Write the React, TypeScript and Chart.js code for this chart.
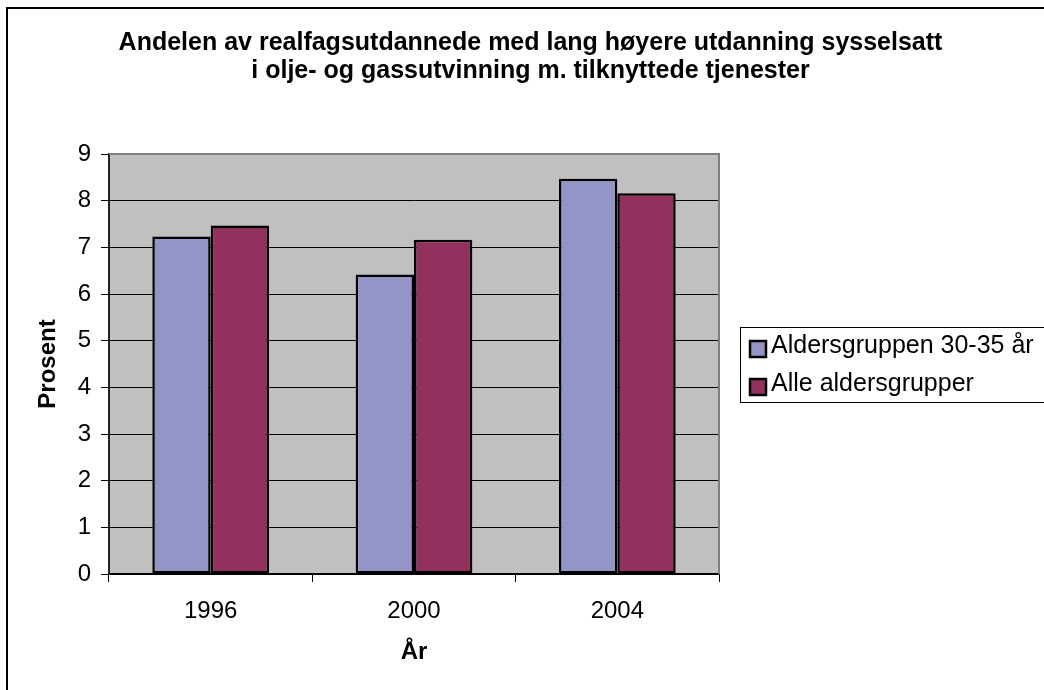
import { useEffect, useRef } from "react";
import { Chart, registerables } from "chart.js";

Chart.register(...registerables);

// Data
const years = ["1996", "2000", "2004"];
const age3035 = [7.23, 6.42, 8.47];
const allAges = [7.47, 7.16, 8.16];
const seriesNames = ["Aldersgruppen 30-35 år", "Alle aldersgrupper"];
const seriesColors = ["#9494C6", "#92305E"];
const titleLines = [
  "Andelen av realfagsutdannede med lang høyere utdanning sysselsatt",
  "i olje- og gassutvinning m. tilknyttede tjenester",
];
const yAxisTitle = "Prosent";
const xAxisTitle = "År";
const yMin = 0;
const yMax = 9;
const yStep = 1;

const FONT = "'Liberation Sans', Arial, Helvetica, sans-serif";

// Plot background, frame, title, boxed legend and outer border
const decorPlugin = {
  id: "decor",
  beforeDraw(chart: any) {
    const { ctx, chartArea: a } = chart;
    ctx.save();
    ctx.fillStyle = "#ffffff";
    ctx.fillRect(0, 0, chart.width, chart.height);
    ctx.fillStyle = "#C0C0C0";
    ctx.fillRect(a.left, a.top, a.right - a.left, a.bottom - a.top);
    ctx.restore();
  },
  afterDatasetsDraw(chart: any) {
    const { ctx, chartArea: a } = chart;
    ctx.save();
    ctx.strokeStyle = "#808080";
    ctx.lineWidth = 2;
    ctx.beginPath();
    ctx.moveTo(a.left, a.top);
    ctx.lineTo(a.right, a.top);
    ctx.lineTo(a.right, a.bottom);
    ctx.stroke();
    ctx.restore();
  },
  afterDraw(chart: any) {
    const { ctx } = chart;
    ctx.save();

    // chart title
    ctx.fillStyle = "#000";
    ctx.font = `bold 25px ${FONT}`;
    ctx.textAlign = "center";
    ctx.textBaseline = "middle";
    titleLines.forEach((line, i) => ctx.fillText(line, 530.5, 43 + i * 28));

    // legend box
    ctx.strokeStyle = "#000";
    ctx.lineWidth = 1;
    ctx.strokeRect(740.5, 327.5, 320, 75);
    ctx.font = `25px ${FONT}`;
    ctx.textAlign = "left";
    chart.data.datasets.forEach((ds: any, i: number) => {
      const cy = 349 + i * 38;
      ctx.fillStyle = ds.backgroundColor;
      ctx.fillRect(750, cy - 8, 16, 16);
      ctx.strokeStyle = "#000";
      ctx.lineWidth = 2.5;
      ctx.strokeRect(750, cy - 8, 16, 16);
      ctx.fillStyle = "#000";
      ctx.fillText(ds.label, 771, cy - 3);
    });

    // outer border (top and left)
    ctx.strokeStyle = "#000";
    ctx.lineWidth = 2;
    ctx.beginPath();
    ctx.moveTo(7, chart.height);
    ctx.lineTo(7, 8);
    ctx.lineTo(chart.width, 8);
    ctx.stroke();
    ctx.restore();
  },
};

export default function App() {
  const canvasRef = useRef<HTMLCanvasElement | null>(null);

  useEffect(() => {
    if (!canvasRef.current) return;
    const barStyle = {
      borderColor: "#000",
      borderWidth: 2.5,
      borderSkipped: false,
      categoryPercentage: 0.574,
      barPercentage: 1,
    };
    const chart = new Chart(canvasRef.current, {
      type: "bar",
      data: {
        labels: years,
        datasets: [
          { label: seriesNames[0], data: age3035, backgroundColor: seriesColors[0], ...barStyle },
          { label: seriesNames[1], data: allAges, backgroundColor: seriesColors[1], ...barStyle },
        ],
      },
      options: {
        responsive: false,
        devicePixelRatio: 1,
        animation: false,
        layout: { padding: { top: 154, right: 325, bottom: 0, left: 0 } },
        plugins: {
          legend: { display: false },
          title: { display: false },
          tooltip: { enabled: false },
        },
        scales: {
          x: {
            afterFit(scale: any) {
              scale.height = 116;
            },
            grid: {
              drawOnChartArea: false,
              drawTicks: true,
              tickLength: 8,
              color: "#000",
              lineWidth: 1,
            },
            border: { display: true, color: "#000", width: 1.5 },
            ticks: {
              color: "#000",
              padding: 15,
              font: { family: FONT, size: 24 },
            },
            title: {
              display: true,
              text: xAxisTitle,
              color: "#000",
              font: { family: FONT, size: 24, weight: "bold" },
              padding: { top: 0, bottom: 23 },
            },
          },
          y: {
            min: yMin,
            max: yMax,
            afterFit(scale: any) {
              scale.width = 109;
            },
            ticks: {
              stepSize: yStep,
              color: "#000",
              padding: 10,
              font: { family: FONT, size: 24 },
            },
            grid: {
              color: "#000",
              lineWidth: 1,
              drawTicks: true,
              tickLength: 8,
            },
            border: { display: true, color: "#222", width: 2 },
            title: {
              display: true,
              text: yAxisTitle,
              color: "#000",
              font: { family: FONT, size: 24, weight: "bold" },
              padding: { top: 34, bottom: 0 },
            },
          },
        },
      },
      plugins: [decorPlugin],
    });
    return () => chart.destroy();
  }, []);

  return (
    <div style={{ position: "absolute", left: 0, top: 0, width: 1044, height: 690 }}>
      <canvas ref={canvasRef} width={1044} height={690} style={{ width: 1044, height: 690, display: "block" }} />
    </div>
  );
}
